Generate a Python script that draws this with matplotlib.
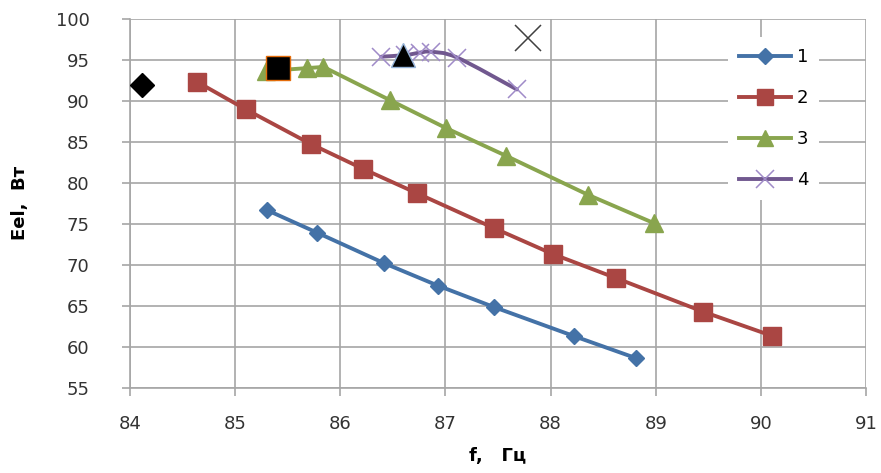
import numpy as np
import matplotlib
matplotlib.use("Agg")
import matplotlib.pyplot as plt
from matplotlib.path import Path
from matplotlib.patches import PathPatch
from matplotlib.lines import Line2D

# series 1..4
f1 = [85.30, 85.78, 86.42, 86.93, 87.46, 88.22, 88.81]
e1 = [76.69, 73.92, 70.18, 67.45, 64.85, 61.31, 58.62]

f2 = [84.64, 85.10, 85.72, 86.22, 86.73, 87.46, 88.02, 88.62, 89.45, 90.11]
e2 = [92.31, 88.98, 84.74, 81.69, 78.73, 74.49, 71.32, 68.39, 64.28, 61.31]

f3 = [85.29, 85.68, 85.84, 86.47, 87.01, 87.58, 88.36, 88.98]
e3 = [93.65, 94.00, 94.15, 90.11, 86.66, 83.28, 78.52, 75.10]

f4 = [86.39, 86.62, 86.76, 86.86, 87.11, 87.68]
e4 = [95.40, 95.60, 95.90, 96.00, 95.30, 91.40]

# single black points
pt_diamond = (84.11, 91.94)
pt_square = (85.41, 94.00)
pt_triangle = (86.60, 95.60)
pt_cross = (87.79, 97.70)

labels = ['1', '2', '3', '4']
colors = ['#4472A7', '#AA4643', '#89A54E', '#71588F']

fig = plt.figure(figsize=(8.81, 4.73), dpi=100)
ax = fig.add_axes([130 / 881, 85.3 / 473, 736 / 881, 368.7 / 473])

ax.plot(f1, e1, color=colors[0], lw=2.8, marker='D', ms=7.8, zorder=3)
ax.plot(f2, e2, color=colors[1], lw=2.8, marker='s', ms=12.5, zorder=3)
ax.plot(f3, e3, color=colors[2], lw=2.8, marker='^', ms=12.5, zorder=3)


def smooth_path(xs, ys):
    # catmull-rom style bezier through points (like Excel smoothed line)
    pts = np.column_stack([xs, ys])
    verts = [pts[0]]
    codes = [Path.MOVETO]
    n = len(pts)
    for i in range(n - 1):
        p0 = pts[i - 1] if i > 0 else pts[i]
        p1 = pts[i]
        p2 = pts[i + 1]
        p3 = pts[i + 2] if i + 2 < n else pts[i + 1]
        c1 = p1 + (p2 - p0) / 6
        c2 = p2 - (p3 - p1) / 6
        verts += [c1, c2, p2]
        codes += [Path.CURVE4] * 3
    return Path(verts, codes)


ax.add_patch(PathPatch(smooth_path(f4, e4), facecolor='none', edgecolor=colors[3],
                       lw=2.8, zorder=3, capstyle='round'))
ax.plot(f4, e4, ls='none', marker='x', ms=13, mew=1.1, color='#A08BC8', zorder=4)

ax.plot(*pt_diamond, marker='D', ms=12.5, color='black', zorder=5)
ax.plot(*pt_square, marker='s', ms=17, color='black', mec='#E46C0A', mew=1, zorder=5)
ax.plot(*pt_triangle, marker='^', ms=17, color='black', mec='#95B3D7', mew=1, zorder=5)
ax.plot(*pt_cross, marker='x', ms=19, color='#404040', mew=1.1, zorder=5)

ax.set_xlim(84, 91)
ax.set_ylim(55, 100)
ax.set_xticks(range(84, 92))
ax.set_yticks(range(55, 101, 5))
ax.grid(True, color='#A6A6A6', lw=1.2)
ax.set_axisbelow(True)
for s in ['top', 'right']:
    ax.spines[s].set_visible(False)
for s in ['left', 'bottom']:
    ax.spines[s].set_color('#A6A6A6')
    ax.spines[s].set_linewidth(1.2)

ax.tick_params(axis='both', direction='out', length=6, color='#A6A6A6', width=1.2,
               labelcolor='#333333')
ax.tick_params(axis='y', pad=23, labelsize=13)
ax.tick_params(axis='x', pad=14, labelsize=13)

ax.set_xlabel('f,   Гц', fontsize=13, fontweight='bold', labelpad=10)
ax.set_ylabel('Eel,  Вт', fontsize=13, fontweight='bold', labelpad=19)

handles = [
    Line2D([], [], color=colors[0], lw=2.8, marker='D', ms=7.8),
    Line2D([], [], color=colors[1], lw=2.8, marker='s', ms=11),
    Line2D([], [], color=colors[2], lw=2.8, marker='^', ms=11),
    Line2D([], [], color=colors[3], lw=2.8, marker='x', ms=13, mew=1.1, mec='#A08BC8'),
]
leg = ax.legend(handles, labels, loc='upper left', bbox_to_anchor=(0.8125, 0.951),
                borderaxespad=0, frameon=True, facecolor='white', edgecolor='none',
                framealpha=1, fontsize=13, handlelength=2.9, labelspacing=1.28,
                borderpad=0.6, handletextpad=0.3, fancybox=False)
leg.set_zorder(6)

fig.savefig('out.png', dpi=100)
